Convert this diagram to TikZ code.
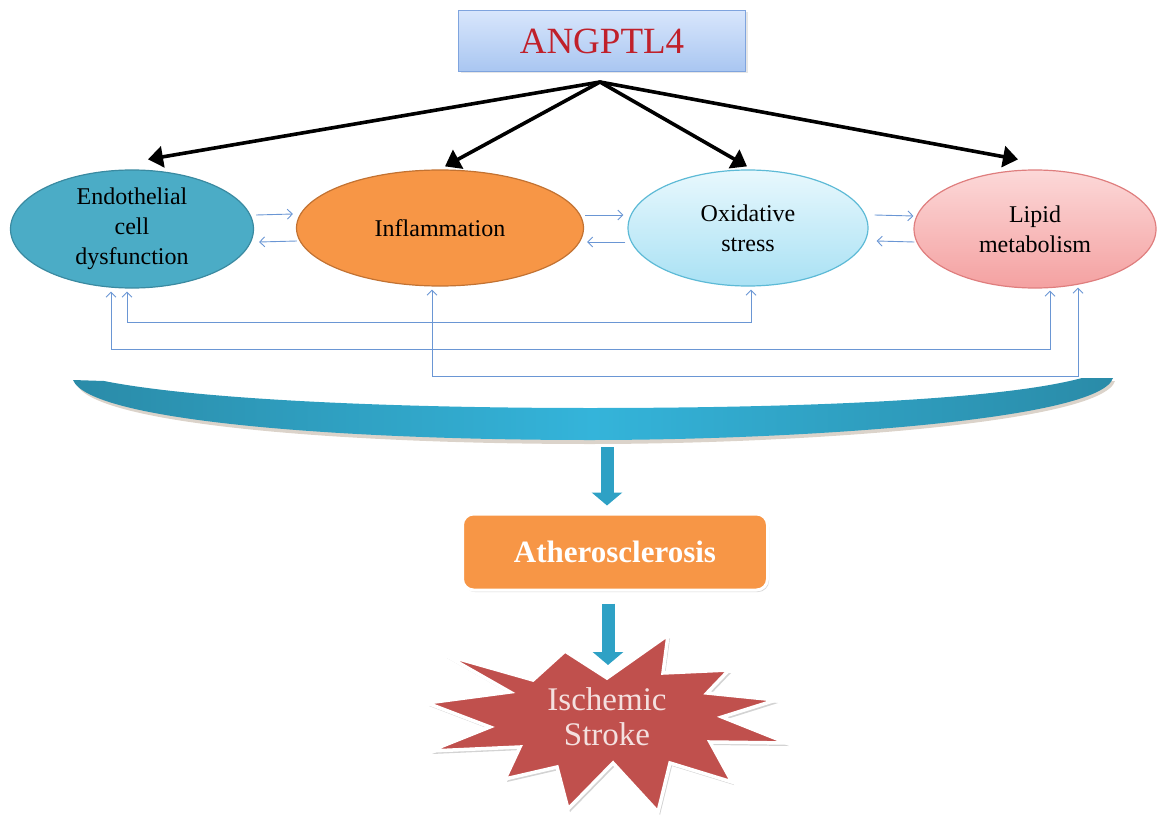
\documentclass[tikz,border=0pt]{standalone}
\usepackage{fontspec}
\setmainfont{Liberation Serif}
\usetikzlibrary{shapes.geometric,arrows.meta,shadows,calc}
\definecolor{angtop}{HTML}{D8E6FC}
\definecolor{angbot}{HTML}{A9C6F1}
\definecolor{angdraw}{HTML}{7FA4DE}
\definecolor{angtext}{HTML}{C0202A}
\definecolor{endofill}{HTML}{4BACC6}
\definecolor{endodraw}{HTML}{3A8AA1}
\definecolor{inflfill}{HTML}{F79646}
\definecolor{infldraw}{HTML}{C27232}
\definecolor{oxtop}{HTML}{E8F8FD}
\definecolor{oxbot}{HTML}{A9E1F4}
\definecolor{oxdraw}{HTML}{5DBAD6}
\definecolor{liptop}{HTML}{FCD8D8}
\definecolor{lipbot}{HTML}{F4A1A1}
\definecolor{lipdraw}{HTML}{DF7E7E}
\definecolor{fbblue}{HTML}{6A96D4}
\definecolor{banddark}{HTML}{2A8BA8}
\definecolor{bandlight}{HTML}{34B4DA}
\definecolor{arrowblue}{HTML}{2EA1C5}
\definecolor{starred}{HTML}{C0504D}
\definecolor{startext}{HTML}{F4E0DF}
\begin{document}
\begin{tikzpicture}[x=1pt,y=-1pt,
  ell/.style={ellipse,inner sep=0pt,align=center,line width=1.2pt,
    font=\fontsize{24}{30}\selectfont},
  blackarrow/.style={line width=3.6pt,black,-{Triangle[length=15pt,width=21pt]}},
  fbarrow/.style={line width=0.9pt,fbblue,-{Straight Barb[length=5pt,width=10pt]}},
  fbboth/.style={line width=0.9pt,fbblue,{Straight Barb[length=5pt,width=10pt]}-{Straight Barb[length=5pt,width=10pt]}},
  blockarrow/.style={line width=13pt,arrowblue,-{Triangle[length=13pt,width=30pt]}},
]
\useasboundingbox (0,0) rectangle (1158,821);

% top box
\node[draw=angdraw,line width=1pt,top color=angtop,bottom color=angbot,
  minimum width=287pt,minimum height=61pt,inner sep=0pt,
  text=angtext,font=\fontsize{37}{40}\selectfont,
  drop shadow={opacity=0.2,shadow xshift=2pt,shadow yshift=-2pt}] (angptl) at (602,41) {ANGPTL4};

% ellipses
\node[ell,fill=endofill,draw=endodraw,minimum width=243pt,minimum height=118pt] (endo) at (132,229) {Endothelial\\cell\\dysfunction};
\node[ell,fill=inflfill,draw=infldraw,minimum width=287pt,minimum height=116pt] (infl) at (440,228) {Inflammation};
\node[ell,top color=oxtop,bottom color=oxbot,draw=oxdraw,minimum width=240pt,minimum height=116pt] (ox) at (748,228) {Oxidative\\stress};
\node[ell,top color=liptop,bottom color=lipbot,draw=lipdraw,minimum width=242pt,minimum height=118pt] (lipid) at (1035,229) {Lipid\\metabolism};

% black arrows
\coordinate (hub) at ([xshift=-2pt,yshift=-10pt]angptl.south);
\draw[blackarrow,line cap=round] (hub) -- ([xshift=16pt,yshift=10pt]endo.north);
\draw[blackarrow,line cap=round] (hub) -- ([xshift=5pt,yshift=3pt]infl.north);
\draw[blackarrow,line cap=round] (hub) -- ([xshift=-1pt,yshift=3pt]ox.north);
\draw[blackarrow,line cap=round] (hub) -- ([xshift=-17pt,yshift=10pt]lipid.north);

% small horizontal arrows
\draw[fbarrow] ([xshift=2pt,yshift=14pt]endo.east) -- ([xshift=-3pt,yshift=14pt]infl.west);
\draw[fbarrow] ([xshift=1pt,yshift=-13pt]infl.west) -- ([xshift=5pt,yshift=-13pt]endo.east);
\draw[fbarrow] ([xshift=1pt,yshift=13pt]infl.east) -- ([xshift=-4pt,yshift=13pt]ox.west);
\draw[fbarrow] ([xshift=-2pt,yshift=-14pt]ox.west) -- ([xshift=3pt,yshift=-14pt]infl.east);
\draw[fbarrow] ([xshift=6pt,yshift=13pt]ox.east) -- ([xshift=0pt,yshift=13pt]lipid.west);
\draw[fbarrow] ([xshift=1pt,yshift=-13pt]lipid.west) -- ([xshift=8pt,yshift=-13pt]ox.east);

% feedback loops
\draw[fbboth] ([xshift=3pt,yshift=-3pt]ox.south) -- ++(0,33) -| ([xshift=-5pt,yshift=-3pt]endo.south);
\draw[fbboth] ([xshift=15pt,yshift=-2pt]lipid.south) -- ++(0,59) -| ([xshift=-21pt,yshift=-3pt]endo.south);
\draw[fbboth] ([xshift=-8pt,yshift=-3pt]infl.south) -- ++(0,87) -| ([xshift=43pt,yshift=1pt]lipid.south);

% curved band
\fill[gray!60!brown,opacity=0.35] (76,383) -- (106,384) .. controls (200,403) and (400,411) .. (590,411) .. controls (800,411) and (1000,403) .. (1084,381) -- (1115,381) .. controls (1102,423) and (800,444) .. (590,444) .. controls (350,444) and (90,425) .. (76,383) -- cycle;
\shade[left color=banddark,right color=banddark,middle color=bandlight] (73,380) -- (104,381) .. controls (200,400) and (400,408) .. (590,408) .. controls (800,408) and (1000,400) .. (1082,378) -- (1113,378) .. controls (1100,420) and (800,440) .. (590,440) .. controls (350,440) and (90,422) .. (73,380) -- cycle;
\coordinate (bandbot) at (607,447);

% atherosclerosis
\node[fill=inflfill,draw=white,line width=3pt,rounded corners=11pt,
  minimum width=305pt,minimum height=76pt,inner sep=0pt,text=white,
  font=\bfseries\fontsize{31}{34}\selectfont,
  drop shadow={opacity=0.3,shadow xshift=1.5pt,shadow yshift=-2pt}] (athero) at (615,552) {Atherosclerosis};

% star
\coordinate (starnotch) at (608,665);
\path[fill=gray,opacity=0.35,shift={(2,3)}] (445,655) -- (533,680) -- (565,651) -- (607,678) -- (668,635) -- (663,673) -- (729,670) -- (707,693) -- (776,700) -- (722,717) -- (787,743) -- (710,742) -- (732,782) -- (670,763) -- (658,812) -- (613,763) -- (568,809) -- (557,767) -- (505,779) -- (520,747) -- (430,751) -- (490,727) -- (427,703) -- (510,692) -- cycle;
\path[fill=starred,draw=white,line width=3.5pt,line join=miter] (445,655) -- (533,680) -- (565,651) -- (607,678) -- (668,635) -- (663,673) -- (729,670) -- (707,693) -- (776,700) -- (722,717) -- (787,743) -- (710,742) -- (732,782) -- (670,763) -- (658,812) -- (613,763) -- (568,809) -- (557,767) -- (505,779) -- (520,747) -- (430,751) -- (490,727) -- (427,703) -- (510,692) -- cycle;
\node[align=center,text=startext,font=\fontsize{33}{35}\selectfont,inner sep=0pt] (stroke) at (607,717) {Ischemic\\Stroke};

% block arrows
\draw[blockarrow] (bandbot) -- ([xshift=-8pt,yshift=7pt]athero.north);
\draw[blockarrow] ([xshift=-7pt,yshift=-12pt]athero.south) -- (starnotch);
\end{tikzpicture}
\end{document}
